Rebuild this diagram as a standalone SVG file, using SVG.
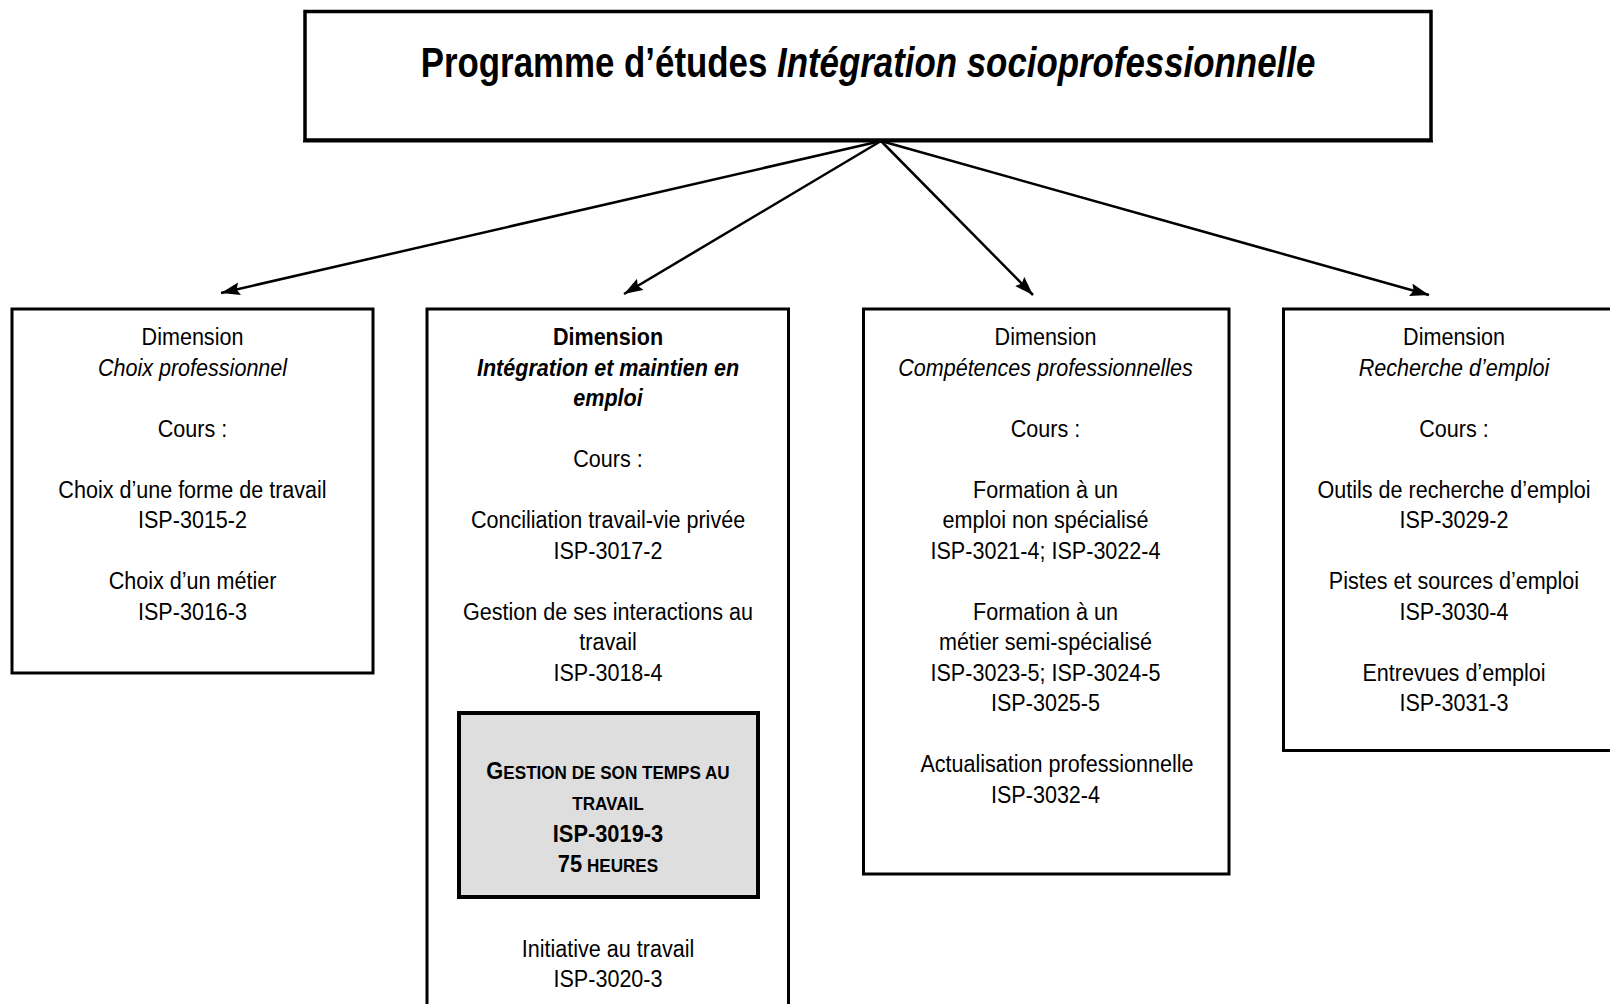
<svg xmlns="http://www.w3.org/2000/svg" width="1610" height="1004" viewBox="0 0 1610 1004">
<style>
  text { font-family: "Liberation Sans", Arial, sans-serif; fill: #000; text-anchor: middle; }
  .t { font-size: 24.5px; }
  .it { font-style: italic; }
  .b { font-weight: bold; }
  .box { fill: #fff; stroke: #000; stroke-width: 3; }
  .gray { fill: #dedede; stroke: #000; stroke-width: 4; }
  .title { font-size: 42px; font-weight: bold; }
  .g { font-size: 23px; font-weight: bold; }
  .sc { font-size: 18px; }
  .conn { stroke: #000; stroke-width: 2.5; fill: none; marker-end: url(#arr); }
</style>
<defs>
  <marker id="arr" markerUnits="userSpaceOnUse" markerWidth="20" markerHeight="14" refX="19" refY="6.5" orient="auto">
    <path d="M0,0 L19,6.5 L0,13 L3,6.5 z" fill="#000"/>
  </marker>
</defs>
<rect width="1610" height="1004" fill="#fff"/>

<g id="connectors">
  <line class="conn" x1="881" y1="141" x2="221" y2="293"/>
  <line class="conn" x1="881" y1="141" x2="624" y2="294"/>
  <line class="conn" x1="881" y1="141" x2="1033" y2="295"/>
  <line class="conn" x1="881" y1="141" x2="1429" y2="295"/>
</g>

<g id="node-programme">
  <rect x="305" y="11.5" width="1126" height="128.5" fill="#fff" stroke="#000" stroke-width="3.5"/>
  <line x1="303" y1="141.5" x2="1433" y2="141.5" stroke="#000" stroke-width="2"/>
  <g transform="translate(868 0) scale(0.83 1)">
    <text class="title" x="0" y="77">Programme d’études <tspan class="it">Intégration socioprofessionnelle</tspan></text>
  </g>
</g>

<g id="node-choix">
  <rect class="box" x="12" y="309" width="361" height="364"/>
  <g transform="translate(192.5 0) scale(0.88 1)">
    <text class="t" x="0" y="345.5">Dimension</text>
    <text class="t it" x="0" y="376">Choix professionnel</text>
    <text class="t" x="0" y="437">Cours :</text>
    <text class="t" x="0" y="498">Choix d’une forme de travail</text>
    <text class="t" x="0" y="528.5">ISP-3015-2</text>
    <text class="t" x="0" y="589.5">Choix d’un métier</text>
    <text class="t" x="0" y="620">ISP-3016-3</text>
  </g>
</g>

<g id="node-integration">
  <rect class="box" x="427" y="309" width="361.5" height="720"/>
  <g transform="translate(608 0) scale(0.88 1)">
    <text class="t b" x="0" y="345.5">Dimension</text>
    <text class="t b it" x="0" y="376">Intégration et maintien en</text>
    <text class="t b it" x="0" y="406.5">emploi</text>
    <text class="t" x="0" y="467.5">Cours :</text>
    <text class="t" x="0" y="528.5">Conciliation travail-vie privée</text>
    <text class="t" x="0" y="559">ISP-3017-2</text>
    <text class="t" x="0" y="620">Gestion de ses interactions au</text>
    <text class="t" x="0" y="650.5">travail</text>
    <text class="t" x="0" y="681">ISP-3018-4</text>
    <text class="t" x="0" y="957">Initiative au travail</text>
    <text class="t" x="0" y="987.5">ISP-3020-3</text>
  </g>
</g>

<g id="node-gestion-temps">
  <rect class="gray" x="459" y="713" width="299" height="184"/>
  <g transform="translate(608 0) scale(0.95 1)">
    <text class="g" x="0" y="779.5">G<tspan class="sc">ESTION DE SON TEMPS AU</tspan></text>
    <text class="g sc" x="0" y="810">TRAVAIL</text>
    <text class="g" x="0" y="842">ISP-3019-3</text>
    <text class="g" x="0" y="872">75<tspan class="sc"> HEURES</tspan></text>
  </g>
</g>

<g id="node-competences">
  <rect class="box" x="863.5" y="309" width="365.5" height="565"/>
  <g transform="translate(1045.5 0) scale(0.88 1)">
    <text class="t" x="0" y="345.5">Dimension</text>
    <text class="t it" x="0" y="376">Compétences professionnelles</text>
    <text class="t" x="0" y="437">Cours :</text>
    <text class="t" x="0" y="498">Formation à un</text>
    <text class="t" x="0" y="528.5">emploi non spécialisé</text>
    <text class="t" x="0" y="559">ISP-3021-4; ISP-3022-4</text>
    <text class="t" x="0" y="620">Formation à un</text>
    <text class="t" x="0" y="650.5">métier semi-spécialisé</text>
    <text class="t" x="0" y="681">ISP-3023-5; ISP-3024-5</text>
    <text class="t" x="0" y="711.5">ISP-3025-5</text>
    <text class="t" x="13" y="772.5">Actualisation professionnelle</text>
    <text class="t" x="0" y="803">ISP-3032-4</text>
  </g>
</g>

<g id="node-recherche">
  <rect class="box" x="1283.5" y="309" width="340" height="441.5"/>
  <g transform="translate(1454 0) scale(0.88 1)">
    <text class="t" x="0" y="345.5">Dimension</text>
    <text class="t it" x="0" y="376">Recherche d’emploi</text>
    <text class="t" x="0" y="437">Cours :</text>
    <text class="t" x="0" y="498">Outils de recherche d’emploi</text>
    <text class="t" x="0" y="528.5">ISP-3029-2</text>
    <text class="t" x="0" y="589.5">Pistes et sources d’emploi</text>
    <text class="t" x="0" y="620">ISP-3030-4</text>
    <text class="t" x="0" y="681">Entrevues d’emploi</text>
    <text class="t" x="0" y="711.5">ISP-3031-3</text>
  </g>
</g>
</svg>
